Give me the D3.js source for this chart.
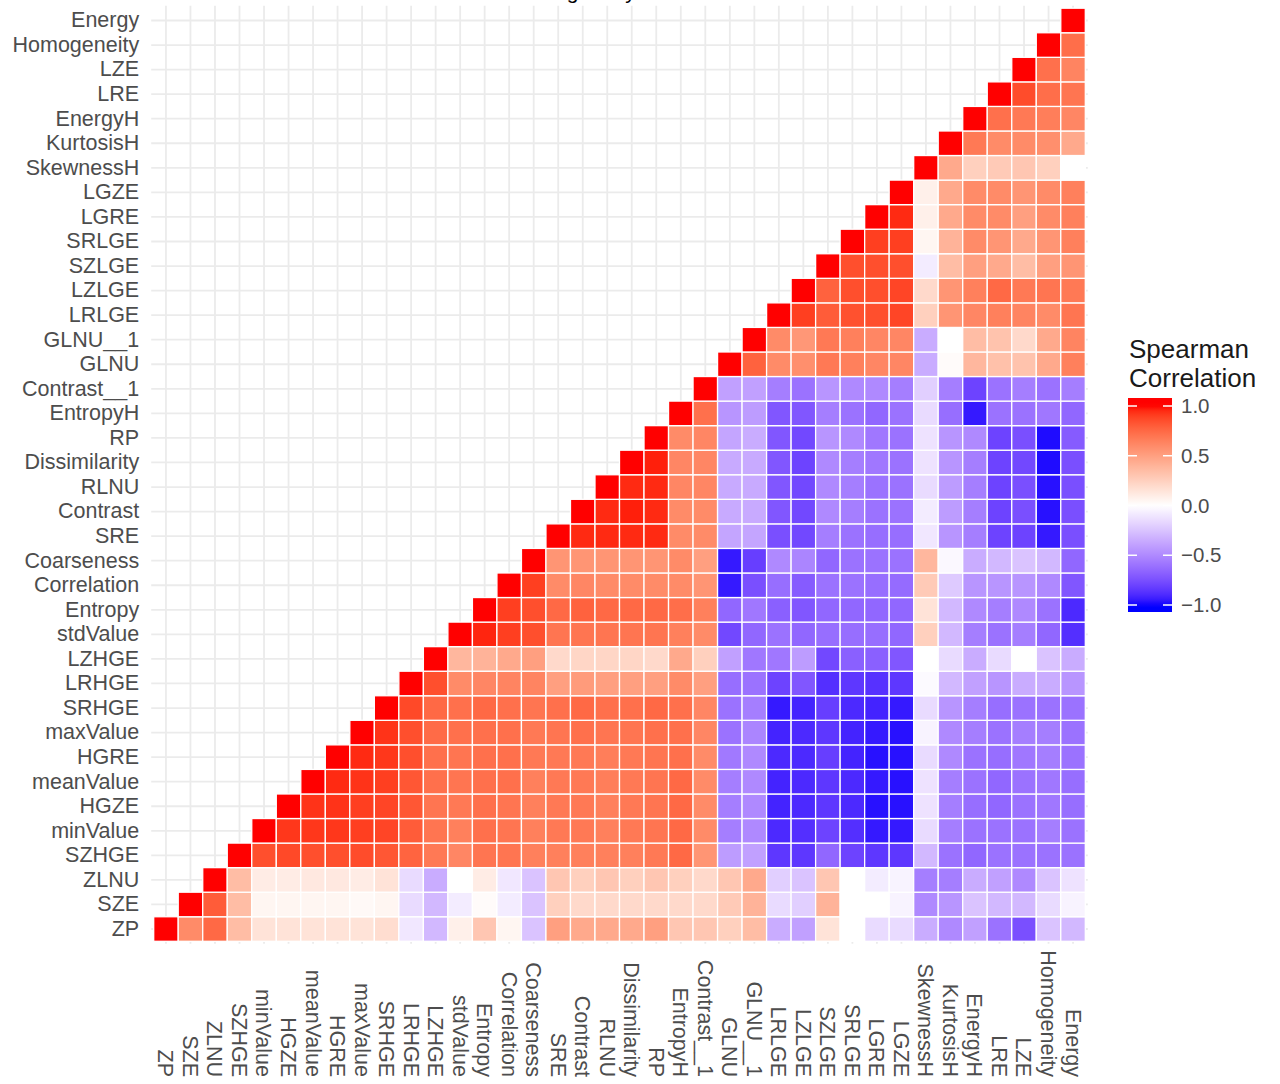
<!DOCTYPE html>
<html><head><meta charset="utf-8">
<script src="https://cdn.jsdelivr.net/npm/d3@7"></script>
<style>
body{margin:0;background:#fff;}
svg{display:block;font-family:"Liberation Sans", Arial, Helvetica, sans-serif;}
</style>
</head><body>
<svg id="chart" width="1280" height="1084"></svg>
<script>
// Variable order (bottom-to-top on y, left-to-right on x)
const variables = ["ZP","SZE","ZLNU","SZHGE","minValue","HGZE","meanValue","HGRE","maxValue","SRHGE",
  "LRHGE","LZHGE","stdValue","Entropy","Correlation","Coarseness","SRE","Contrast","RLNU","Dissimilarity",
  "RP","EntropyH","Contrast__1","GLNU","GLNU__1","LRLGE","LZLGE","SZLGE","SRLGE","LGRE",
  "LGZE","SkewnessH","KurtosisH","EnergyH","LRE","LZE","Homogeneity","Energy"];

// Each row holds correlations of that variable with variables[i], variables[i+1], ... Energy
const r_ZP = [1,0.6,0.75,0.35,0.15,0.15,0.15,0.15,0.15,0.18,-0.1,-0.3,0.08,0.3,0.05,-0.25,0.5,0.45,0.45,0.45,0.5,0.3,0.3,0.25,0.35,-0.35,-0.4,0.15,0,-0.15,-0.15,-0.35,-0.5,-0.4,-0.6,-0.75,-0.25,-0.3];
const r_SZE = [1,0.8,0.35,0.05,0.05,0.05,0.05,0.03,0.05,-0.15,-0.3,-0.08,0.02,-0.08,-0.25,0.25,0.2,0.2,0.2,0.2,0.2,0.2,0.28,0.4,-0.15,-0.2,0.4,0,0,-0.05,-0.5,-0.45,-0.25,-0.3,-0.3,-0.15,-0.05];
const r_ZLNU = [1,0.35,0.1,0.1,0.12,0.12,0.1,0.15,-0.15,-0.35,0,0.1,-0.1,-0.25,0.3,0.25,0.3,0.25,0.3,0.25,0.2,0.3,0.45,-0.2,-0.25,0.3,0,-0.08,-0.05,-0.55,-0.55,-0.35,-0.4,-0.5,-0.25,-0.12];
const r_SZHGE = [1,0.85,0.87,0.85,0.85,0.86,0.82,0.77,0.68,0.62,0.7,0.7,0.65,0.65,0.65,0.65,0.65,0.68,0.75,0.55,-0.42,-0.4,-0.85,-0.85,-0.65,-0.8,-0.85,-0.85,-0.3,-0.6,-0.65,-0.6,-0.6,-0.6,-0.6];
const r_minValue = [1,0.92,0.92,0.92,0.9,0.88,0.8,0.7,0.65,0.72,0.7,0.65,0.68,0.68,0.65,0.68,0.7,0.75,0.6,-0.55,-0.5,-0.9,-0.88,-0.8,-0.88,-0.95,-0.95,-0.15,-0.55,-0.6,-0.6,-0.6,-0.55,-0.6];
const r_HGZE = [1,0.93,0.93,0.9,0.88,0.82,0.7,0.68,0.72,0.7,0.65,0.68,0.68,0.65,0.68,0.7,0.75,0.6,-0.55,-0.5,-0.92,-0.9,-0.85,-0.9,-0.97,-0.97,-0.12,-0.55,-0.62,-0.65,-0.6,-0.58,-0.62];
const r_meanValue = [1,0.95,0.93,0.9,0.82,0.72,0.7,0.72,0.72,0.65,0.68,0.68,0.66,0.68,0.7,0.75,0.6,-0.55,-0.5,-0.92,-0.9,-0.85,-0.9,-0.95,-0.97,-0.12,-0.55,-0.6,-0.65,-0.6,-0.58,-0.62];
const r_HGRE = [1,0.95,0.92,0.85,0.72,0.7,0.72,0.72,0.68,0.68,0.68,0.66,0.68,0.7,0.72,0.6,-0.57,-0.5,-0.9,-0.9,-0.82,-0.92,-0.97,-0.97,-0.15,-0.5,-0.6,-0.62,-0.58,-0.55,-0.6];
const r_maxValue = [1,0.93,0.85,0.74,0.72,0.72,0.72,0.68,0.7,0.72,0.7,0.7,0.72,0.72,0.62,-0.6,-0.52,-0.92,-0.9,-0.85,-0.92,-0.95,-0.97,-0.05,-0.5,-0.55,-0.6,-0.55,-0.55,-0.6];
const r_SRHGE = [1,0.87,0.75,0.72,0.75,0.72,0.7,0.72,0.75,0.72,0.72,0.75,0.72,0.62,-0.6,-0.55,-0.95,-0.92,-0.82,-0.9,-0.92,-0.95,-0.15,-0.45,-0.55,-0.62,-0.6,-0.6,-0.6];
const r_LRHGE = [1,0.85,0.6,0.62,0.63,0.63,0.5,0.52,0.5,0.5,0.5,0.6,0.5,-0.62,-0.6,-0.8,-0.72,-0.88,-0.85,-0.87,-0.85,-0.02,-0.3,-0.4,-0.45,-0.35,-0.35,-0.45];
const r_LZHGE = [1,0.38,0.4,0.45,0.5,0.2,0.22,0.22,0.22,0.2,0.45,0.25,-0.4,-0.58,-0.58,-0.42,-0.78,-0.68,-0.68,-0.72,0,-0.15,-0.35,-0.15,0,-0.25,-0.35];
const r_stdValue = [1,0.96,0.9,0.85,0.7,0.7,0.7,0.7,0.7,0.65,0.6,-0.78,-0.65,-0.6,-0.65,-0.62,-0.62,-0.62,-0.65,0.25,-0.3,-0.55,-0.6,-0.55,-0.65,-0.88];
const r_Entropy = [1,0.9,0.85,0.75,0.78,0.75,0.75,0.75,0.73,0.65,-0.65,-0.58,-0.68,-0.72,-0.65,-0.65,-0.65,-0.65,0.15,-0.3,-0.5,-0.55,-0.5,-0.6,-0.9];
const r_Correlation = [1,0.9,0.6,0.62,0.6,0.6,0.6,0.6,0.55,-0.95,-0.75,-0.62,-0.7,-0.6,-0.6,-0.62,-0.63,0.28,-0.22,-0.45,-0.45,-0.45,-0.5,-0.72];
const r_Coarseness = [1,0.55,0.55,0.55,0.55,0.55,0.6,0.5,-0.95,-0.82,-0.5,-0.52,-0.65,-0.6,-0.6,-0.6,0.38,-0.03,-0.35,-0.3,-0.25,-0.3,-0.65];
const r_SRE = [1,0.95,0.95,0.95,0.95,0.6,0.6,-0.38,-0.38,-0.75,-0.78,-0.55,-0.6,-0.62,-0.62,-0.1,-0.45,-0.55,-0.8,-0.8,-0.95,-0.75];
const r_Contrast = [1,0.95,0.97,0.95,0.6,0.6,-0.36,-0.36,-0.72,-0.78,-0.5,-0.55,-0.6,-0.6,-0.08,-0.42,-0.55,-0.8,-0.75,-0.97,-0.75];
const r_RLNU = [1,0.95,0.95,0.62,0.62,-0.36,-0.36,-0.72,-0.78,-0.5,-0.55,-0.6,-0.6,-0.15,-0.42,-0.55,-0.8,-0.75,-0.97,-0.75];
const r_Dissimilarity = [1,0.97,0.62,0.62,-0.36,-0.36,-0.72,-0.8,-0.5,-0.55,-0.58,-0.6,-0.12,-0.45,-0.55,-0.8,-0.78,-0.98,-0.75];
const r_RP = [1,0.6,0.62,-0.38,-0.35,-0.72,-0.78,-0.45,-0.5,-0.58,-0.6,-0.12,-0.45,-0.5,-0.8,-0.75,-0.98,-0.7];
const r_EntropyH = [1,0.72,-0.45,-0.42,-0.72,-0.72,-0.55,-0.6,-0.65,-0.6,-0.15,-0.62,-0.95,-0.6,-0.6,-0.58,-0.65];
const r_Contrast__1 = [1,-0.4,-0.4,-0.55,-0.6,-0.45,-0.5,-0.5,-0.55,-0.2,-0.55,-0.8,-0.6,-0.55,-0.6,-0.55];
const r_GLNU = [1,0.78,0.6,0.58,0.68,0.65,0.62,0.62,-0.35,0.02,0.38,0.33,0.32,0.45,0.65];
const r_GLNU__1 = [1,0.6,0.54,0.68,0.65,0.62,0.62,-0.35,0,0.35,0.32,0.2,0.45,0.63];
const r_LRLGE = [1,0.9,0.8,0.84,0.85,0.88,0.25,0.55,0.62,0.65,0.63,0.6,0.7];
const r_LZLGE = [1,0.78,0.85,0.85,0.88,0.2,0.55,0.65,0.75,0.68,0.7,0.68];
const r_SZLGE = [1,0.85,0.85,0.85,-0.08,0.35,0.5,0.45,0.35,0.5,0.55];
const r_SRLGE = [1,0.9,0.9,0.05,0.4,0.6,0.55,0.45,0.55,0.65];
const r_LGRE = [1,0.95,0.08,0.45,0.6,0.6,0.5,0.6,0.65];
const r_LGZE = [1,0.08,0.45,0.6,0.6,0.55,0.6,0.65];
const r_SkewnessH = [1,0.45,0.25,0.28,0.3,0.25,0];
const r_KurtosisH = [1,0.68,0.6,0.6,0.58,0.45];
const r_EnergyH = [1,0.72,0.68,0.66,0.62];
const r_LRE = [1,0.86,0.73,0.7];
const r_LZE = [1,0.72,0.63];
const r_Homogeneity = [1,0.73];
const r_Energy = [1];

const rowValues = [r_ZP,r_SZE,r_ZLNU,r_SZHGE,r_minValue,r_HGZE,r_meanValue,r_HGRE,r_maxValue,r_SRHGE,
  r_LRHGE,r_LZHGE,r_stdValue,r_Entropy,r_Correlation,r_Coarseness,r_SRE,r_Contrast,r_RLNU,r_Dissimilarity,
  r_RP,r_EntropyH,r_Contrast__1,r_GLNU,r_GLNU__1,r_LRLGE,r_LZLGE,r_SZLGE,r_SRLGE,r_LGRE,
  r_LGZE,r_SkewnessH,r_KurtosisH,r_EnergyH,r_LRE,r_LZE,r_Homogeneity,r_Energy];

const legendTicks = [1.0, 0.5, 0.0, -0.5, -1.0];
const legendTitle = ["Spearman", "Correlation"];
const titleText = "Clustering Analysis";

// ---------- drawing ----------
const svg = d3.select("#chart");
const x = d3.scaleBand().domain(variables).range([153.7, 1085.3]).padding(0);
const y = d3.scaleBand().domain(variables.slice().reverse()).range([8.2, 941.3]).padding(0);
const color = d3.scaleLinear().domain([-1, 0, 1]).range(["#0000ff", "#ffffff", "#ff0000"])
  .interpolate(d3.interpolateLab).clamp(true);

const panel = {x0: 151.2, x1: 1087.8, y0: 5.7, y1: 943.7};

// title (clipped at the top edge, as in the reference)
svg.append("text").attr("x", 484).attr("y", -1).attr("font-size", 21).attr("fill", "#000")
  .text(titleText);

// grid
const grid = svg.append("g").attr("stroke", "#ebebeb").attr("stroke-width", 1.8);
variables.forEach(v => {
  const cx = x(v) + x.bandwidth() / 2;
  grid.append("line").attr("x1", cx).attr("x2", cx).attr("y1", panel.y0).attr("y2", panel.y1);
  const cy = y(v) + y.bandwidth() / 2;
  grid.append("line").attr("y1", cy).attr("y2", cy).attr("x1", panel.x0).attr("x2", panel.x1);
});

// cells
const cells = [];
rowValues.forEach((vals, r) => {
  vals.forEach((v, k) => {
    cells.push({row: variables[r], col: variables[r + k], value: v});
  });
});
svg.append("g").selectAll("rect").data(cells).join("rect")
  .attr("x", d => x(d.col))
  .attr("y", d => y(d.row))
  .attr("width", x.bandwidth())
  .attr("height", y.bandwidth())
  .attr("fill", d => color(d.value))
  .attr("stroke", "#ffffff")
  .attr("stroke-width", 1.3);

// y axis
const yAxis = svg.append("g").attr("transform", `translate(${panel.x0},0)`)
  .call(d3.axisLeft(y).tickSize(0).tickPadding(12));
yAxis.select(".domain").remove();
yAxis.selectAll("text").attr("font-size", 21.5).attr("fill", "#4d4d4d")
  .attr("font-family", '"Liberation Sans", Arial, sans-serif');

// x axis
const labelBottom = 1077;
const xAxis = svg.append("g").attr("transform", `translate(0,${panel.y1})`)
  .call(d3.axisBottom(x).tickSize(0));
xAxis.select(".domain").remove();
xAxis.selectAll("text")
  .attr("font-size", 21.5).attr("fill", "#4d4d4d")
  .attr("font-family", '"Liberation Sans", Arial, sans-serif')
  .attr("x", 0).attr("y", 0).attr("dy", "0.35em")
  .attr("text-anchor", "end")
  .attr("transform", `translate(0,${labelBottom - panel.y1}) rotate(90)`);

// legend
const lg = svg.append("g");
lg.selectAll("text.lt").data(legendTitle).join("text").attr("class", "lt")
  .attr("x", 1129).attr("y", (d, i) => 358 + i * 29)
  .attr("font-size", 26).attr("fill", "#1a1a1a").text(d => d);

const barX = 1128, barW = 44, barTop = 398, barBot = 612;
const ly = d3.scaleLinear().domain([-1, 1]).range([605, 406]);
const defs = svg.append("defs");
const grad = defs.append("linearGradient").attr("id", "lgrad")
  .attr("x1", 0).attr("y1", 0).attr("x2", 0).attr("y2", 1);
d3.range(0, 1.0001, 0.02).forEach(t => {
  const yy = barTop + t * (barBot - barTop);
  grad.append("stop").attr("offset", t).attr("stop-color", color(ly.invert(yy)));
});
lg.append("rect").attr("x", barX).attr("y", barTop).attr("width", barW).attr("height", barBot - barTop)
  .attr("fill", "url(#lgrad)");
const fmt = d3.format(".1f");
legendTicks.forEach(t => {
  const yy = ly(t);
  lg.append("line").attr("x1", barX).attr("x2", barX + 9).attr("y1", yy).attr("y2", yy)
    .attr("stroke", "#fff").attr("stroke-width", 1.5);
  lg.append("line").attr("x1", barX + barW - 9).attr("x2", barX + barW).attr("y1", yy).attr("y2", yy)
    .attr("stroke", "#fff").attr("stroke-width", 1.5);
  lg.append("text").attr("x", 1181).attr("y", yy).attr("dy", "0.35em")
    .attr("font-size", 20.5).attr("fill", "#4d4d4d").text(fmt(t));
});
</script>
</body></html>
